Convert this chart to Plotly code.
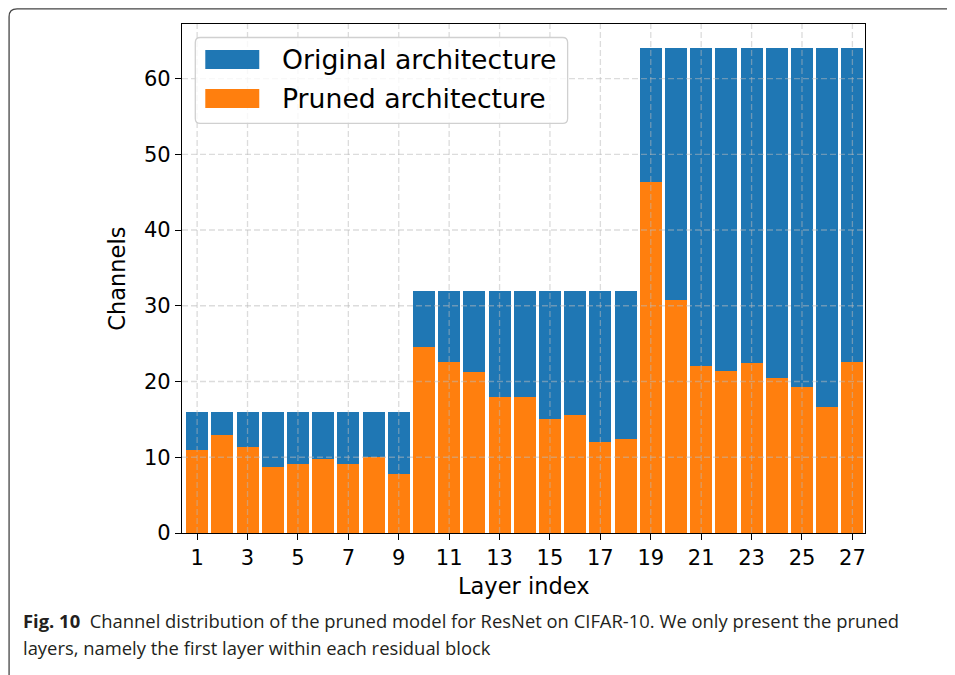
import plotly.graph_objects as go

layers = list(range(1, 28))
original = [16] * 9 + [32] * 9 + [64] * 9
pruned = [11.0, 13.0, 11.3, 8.7, 9.1, 9.8, 9.1, 10.0, 7.8,
          24.6, 22.6, 21.3, 18.0, 18.0, 15.0, 15.6, 12.0, 12.4,
          46.3, 30.7, 22.0, 21.4, 22.4, 20.4, 19.3, 16.7, 22.6]
x_ticks = list(range(1, 28, 2))
y_ticks = [0, 10, 20, 30, 40, 50, 60]
series_names = ["Original architecture", "Pruned architecture"]
colors = ["#1f77b4", "#ff7f0e"]

W, H = 955, 675
OFF = 8  # page body margin offset
# plot area in screen pixels
SL, SR, ST, SB = 181.7, 865, 24, 533.3
ML = SL - OFF
MT = ST - OFF
MR = W - (SR - OFF)
MB = H - (SB - OFF)
PW, PH = W - ML - MR, H - MT - MB


def px(x):
    return (x - SL) / PW


def py(y):
    return (SB - y) / PH


fig = go.Figure()
fig.add_trace(go.Bar(x=layers, y=original, name=series_names[0],
                     marker=dict(color=colors[0], line=dict(width=0)), width=0.875))
fig.add_trace(go.Bar(x=layers, y=pruned, name=series_names[1],
                     marker=dict(color=colors[1], line=dict(width=0)), width=0.875))

tick_font = dict(family="DejaVu Sans", size=21, color="black")
axis_common = dict(showline=True, linecolor="black", linewidth=1.3, mirror=True,
                   ticks="outside", ticklen=6, tickwidth=1.3, tickcolor="black",
                   showgrid=False, zeroline=False, tickfont=tick_font)

shapes = []
grid_line = dict(color="rgba(185,185,185,0.5)", width=1.3, dash="6px,3px")
for xv in x_ticks:
    shapes.append(dict(type="line", xref="x", yref="paper", x0=xv, x1=xv, y0=0, y1=1,
                       line=grid_line, layer="above"))
for yv in y_ticks[1:]:
    shapes.append(dict(type="line", xref="paper", yref="y", x0=0, x1=1, y0=yv, y1=yv,
                       line=grid_line, layer="above"))

# legend box (custom, matplotlib-like)
lx0, lx1, ly0, ly1, r = 195, 567.5, 37.5, 123.5, 5
path = (f"M{px(lx0 + r)},{py(ly0)} L{px(lx1 - r)},{py(ly0)} "
        f"Q{px(lx1)},{py(ly0)} {px(lx1)},{py(ly0 + r)} "
        f"L{px(lx1)},{py(ly1 - r)} Q{px(lx1)},{py(ly1)} {px(lx1 - r)},{py(ly1)} "
        f"L{px(lx0 + r)},{py(ly1)} Q{px(lx0)},{py(ly1)} {px(lx0)},{py(ly1 - r)} "
        f"L{px(lx0)},{py(ly0 + r)} Q{px(lx0)},{py(ly0)} {px(lx0 + r)},{py(ly0)} Z")
shapes.append(dict(type="path", xref="paper", yref="paper", path=path,
                   fillcolor="rgba(255,255,255,0.8)", line=dict(color="#d0d0d0", width=1.3),
                   layer="above"))
sw = [(50, 69), (89, 108)]
for (s0, s1), c in zip(sw, colors):
    shapes.append(dict(type="rect", xref="paper", yref="paper",
                       x0=px(205), x1=px(259), y0=py(s1), y1=py(s0),
                       fillcolor=c, line=dict(width=0), layer="above"))

# outer frame with rounded top-left corner
fx, fy, fr = 8.7, 8.8, 8
frame = (f"M{px(fx)},{py(H + 20)} L{px(fx)},{py(fy + fr)} "
         f"Q{px(fx)},{py(fy)} {px(fx + fr)},{py(fy)} L{px(W + 20)},{py(fy)}")
shapes.append(dict(type="path", xref="paper", yref="paper", path=frame,
                   line=dict(color="#444444", width=1.3), layer="above"))

annotations = []
leg_text_y = [59.5, 98.5]
for name, ty in zip(series_names, leg_text_y):
    annotations.append(dict(xref="paper", yref="paper", x=px(279.5), y=py(ty),
                            xanchor="left", yanchor="middle", showarrow=False, text=name,
                            font=dict(family="DejaVu Sans", size=26.7, color="black")))

annotations.append(dict(xref="paper", yref="paper", x=px(523.3), y=py(586),
                        xanchor="center", yanchor="middle", showarrow=False, text="Layer index",
                        font=dict(family="DejaVu Sans", size=22.5, color="black")))
annotations.append(dict(xref="paper", yref="paper", x=px(117), y=py(278.5),
                        xanchor="center", yanchor="middle", showarrow=False, text="Channels",
                        textangle=-90,
                        font=dict(family="DejaVu Sans", size=22.5, color="black")))

cap_font = dict(family="Open Sans", size=18.4, color="#231f20")
annotations.append(dict(xref="paper", yref="paper", x=px(21), y=py(621),
                        xanchor="left", yanchor="middle", showarrow=False,
                        text="<b>Fig. 10</b>  Channel distribution of the pruned model for ResNet on CIFAR-10. We only present the pruned",
                        font=cap_font))
annotations.append(dict(xref="paper", yref="paper", x=px(21), y=py(648),
                        xanchor="left", yanchor="middle", showarrow=False,
                        text="layers, namely the first layer within each residual block",
                        font=cap_font))

fig.update_layout(
    width=W, height=H,
    margin=dict(l=ML, r=MR, t=MT, b=MB, autoexpand=False),
    paper_bgcolor="white", plot_bgcolor="white",
    barmode="overlay", bargap=0,
    showlegend=False,
    xaxis=dict(range=[0.4, 27.5], tickvals=x_ticks, **axis_common),
    yaxis=dict(range=[0, 67.2], tickvals=y_ticks, **axis_common),
    shapes=shapes, annotations=annotations,
)

fig.write_html("out.html")
